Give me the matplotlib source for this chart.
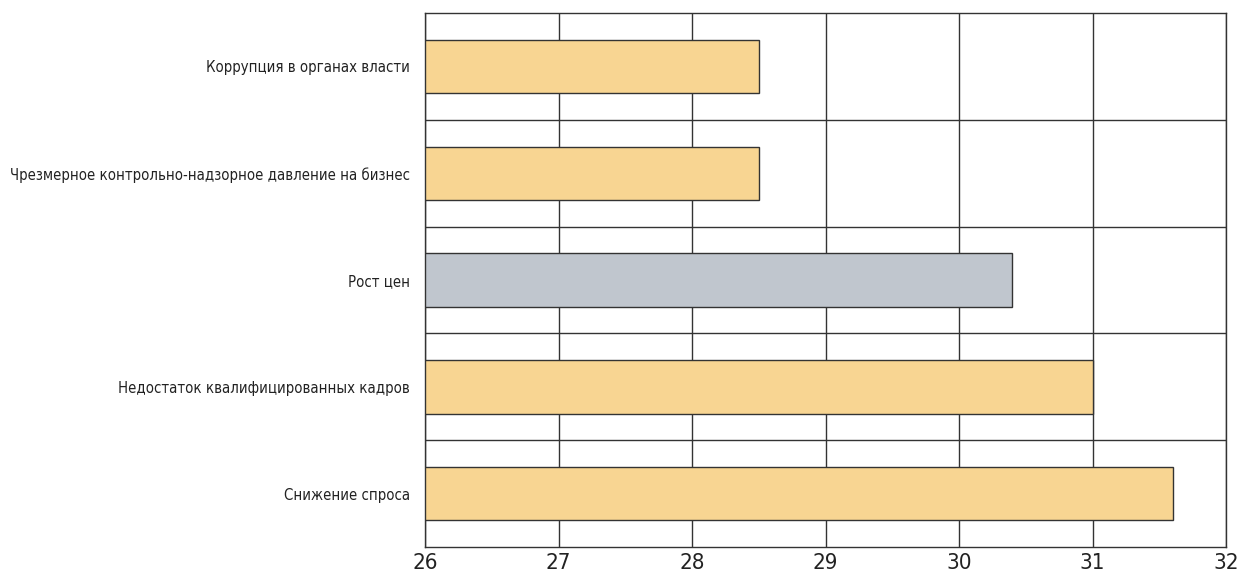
import matplotlib.pyplot as plt
import numpy as np

plt.rcParams['font.family'] = ['Liberation Sans Narrow', 'DejaVu Sans']
plt.rcParams['font.stretch'] = 'condensed'

labels = ["Коррупция в органах власти",
          "Чрезмерное контрольно-надзорное давление на бизнес",
          "Рост цен",
          "Недостаток квалифицированных кадров",
          "Снижение спроса"]
values = [28.5, 28.5, 30.4, 31.0, 31.6]
colors = ["#F8D592", "#F8D592", "#C0C6CE", "#F8D592", "#F8D592"]
xticks = [26, 27, 28, 29, 30, 31, 32]

fig = plt.figure(figsize=(12.39, 5.79), dpi=100)
ax = fig.add_axes([425/1239, 1 - 547/579, 801/1239, 534/579])

y = np.arange(len(labels))
base = 26
ax.barh(y, [v - base for v in values], left=base, height=0.5,
        color=colors, edgecolor="#333333", linewidth=1, zorder=3)

ax.set_xlim(26, 32)
ax.set_ylim(len(labels) - 0.5, -0.5)
ax.set_xticks(xticks)
ax.set_yticks(y)
ax.set_yticklabels(labels, fontsize=10.7, color="#222222")
ax.tick_params(axis='y', length=0, pad=11)
ax.tick_params(axis='x', length=0, labelsize=16, pad=4, labelcolor="#222222")

for xv in xticks:
    ax.axvline(xv, color="#333333", linewidth=1, zorder=1)
for b in np.arange(0.5, len(labels) - 0.5, 1):
    ax.axhline(b, color="#333333", linewidth=1, zorder=1)
for s in ax.spines.values():
    s.set_color("#333333")
    s.set_linewidth(1)

fig.savefig("out.png", dpi=100)
